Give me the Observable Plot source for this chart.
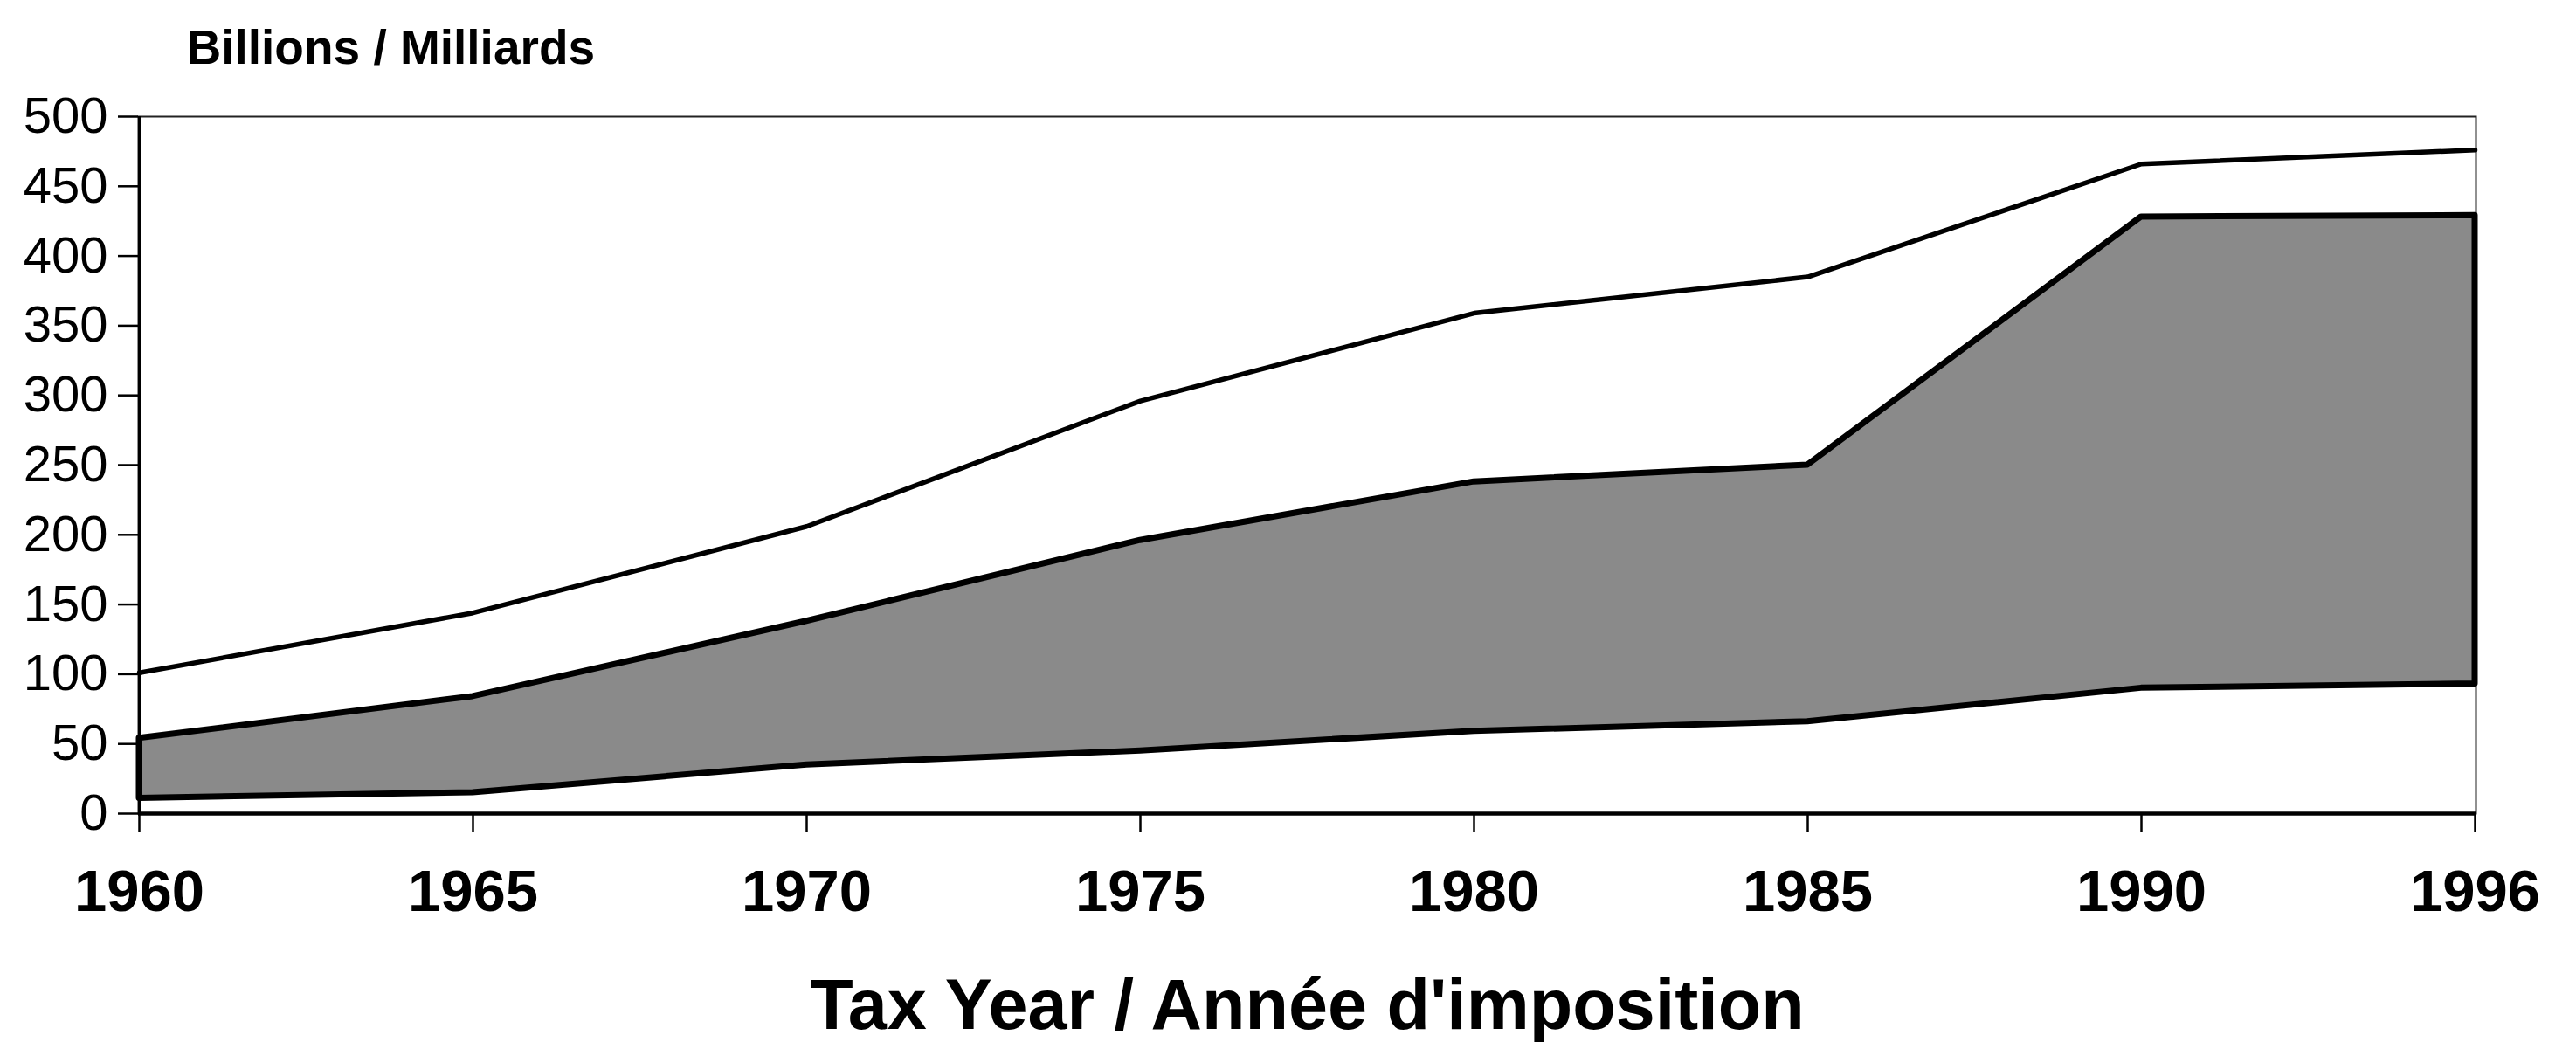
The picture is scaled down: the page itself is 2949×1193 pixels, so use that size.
<!DOCTYPE html>
<html>
<head>
<meta charset="utf-8">
<script src="https://cdn.jsdelivr.net/npm/d3@7"></script>
<script src="https://cdn.jsdelivr.net/npm/@observablehq/plot@0.6"></script>
<style>
  html, body { margin: 0; padding: 0; background: #ffffff; }
</style>
</head>
<body>
<div id="chart"></div>
<script>
// Tax years (x axis categories, equally spaced)
const years = [1960, 1965, 1970, 1975, 1980, 1985, 1990, 1996];
// Upper line (billions)
const upperLine = [101, 144, 206, 296, 359, 385, 466, 476];
// Top of shaded band (billions)
const bandTop = [54, 84, 138, 196, 238, 250, 428, 429];
// Bottom of shaded band (billions)
const bandBottom = [11, 15, 35, 45, 59, 66, 90, 93];
// Y tick values
const yTicks = [0, 50, 100, 150, 200, 250, 300, 350, 400, 450, 500];

const unitLabel = "Billions / Milliards";
const xTitle = "Tax Year / Année d'imposition";

const rows = years.map((y, i) => ({
  year: y,
  upper: upperLine[i],
  top: bandTop[i],
  bottom: bandBottom[i]
}));

const font = "'Liberation Sans', Arial, Helvetica, sans-serif";

const chart = Plot.plot({
  width: 2949,
  height: 1193,
  marginLeft: 158,
  marginRight: 115,
  marginTop: 133,
  marginBottom: 262,
  style: { background: "#ffffff", color: "#000000", fontFamily: font, overflow: "visible" },
  x: { type: "point", domain: years, padding: 0 },
  y: { domain: [0, 500] },
  marks: [
    Plot.frame({ stroke: "#222", strokeWidth: 2 }),
    Plot.areaY(rows, {
      x: "year", y1: "bottom", y2: "top",
      fill: "#8a8a8a", stroke: "#000", strokeWidth: 7, strokeLinejoin: "round"
    }),
    Plot.lineY(rows, { x: "year", y: "upper", stroke: "#000", strokeWidth: 5.5, strokeLinejoin: "round" }),
    Plot.ruleY([0], { stroke: "#000", strokeWidth: 4.5 }),
    Plot.ruleX([years[0]], { stroke: "#000", strokeWidth: 3 }),
    Plot.axisY({
      ticks: yTicks, tickSize: 23, tickPadding: 12, strokeWidth: 2.5,
      fontSize: 58, fontFamily: font, label: null
    }),
    Plot.axisX({
      ticks: years, tickSize: 22, tickPadding: 42, strokeWidth: 2.5,
      fontSize: 67, fontWeight: "bold", fontFamily: font, label: null,
      tickFormat: d => String(d)
    }),
    Plot.text([unitLabel], {
      frameAnchor: "top-left", dx: 55, dy: -61, textAnchor: "start", lineAnchor: "bottom",
      fontSize: 55, fontWeight: "bold", fontFamily: font, fill: "#000"
    }),
    Plot.text([xTitle], {
      frameAnchor: "bottom", dy: 246, textAnchor: "middle", lineAnchor: "bottom",
      fontSize: 81, fontWeight: "bold", fontFamily: font, fill: "#000"
    })
  ]
});

document.getElementById("chart").appendChild(chart);
</script>
</body>
</html>
